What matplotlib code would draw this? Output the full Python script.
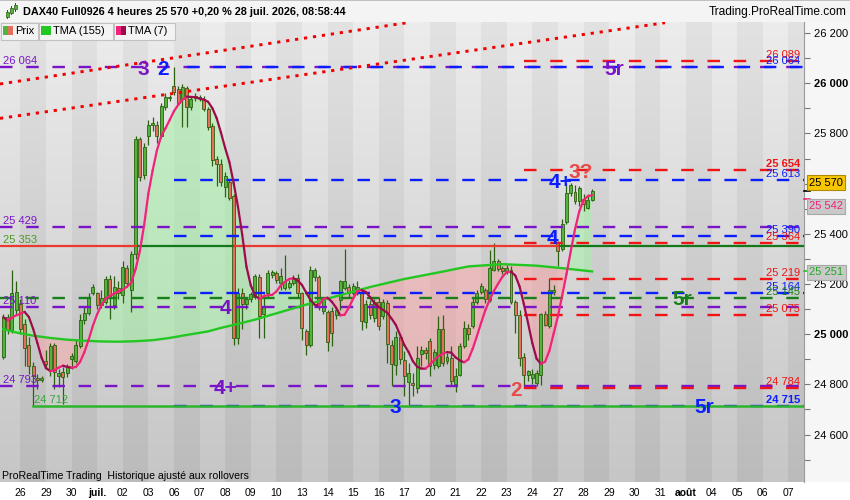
import numpy as np
import pandas as pd
import matplotlib
matplotlib.use("Agg")
import matplotlib.pyplot as plt
from matplotlib.patches import Rectangle, Polygon
from matplotlib.collections import LineCollection
from matplotlib.transforms import IdentityTransform

plt.rcParams['font.family'] = ['Liberation Sans', 'DejaVu Sans']

# ---------------- data ----------------
day_labels = ['25', '26', '29', '30', 'juil.', '02', '03', '06', '07', '08', '09', '10',
              '13', '14', '15', '16', '17', '20', '21', '22', '23', '24', '27', '28',
              '29', '30', '31', 'août', '04', '05', '06', '07']
bars_per_day = 6
first_bar = 2   # index of first visible 4h bar (bar 0 = 25 juin 00:00)

opens = [24909, 25070, 25018, 25097, 25120, 25040, 24958, 24875, 24825, 24818,
         24894, 24859, 24958, 24835, 24850, 24845, 24900, 24892, 24952, 25055,
         25085, 25164, 25164, 25115, 25130, 25220, 25117, 25185, 25157, 25264,
         25176, 25319, 25778, 25635, 25790, 25835, 25834, 25790, 25907, 25940,
         25989, 25976, 25936, 25980, 25905, 25950, 25940, 25936, 25896, 25830,
         25700, 25679, 25585, 25608, 25551, 24985, 25164, 25120, 25140, 25150,
         25227, 25080, 25164, 25235, 25243, 25204, 25184, 25188, 25204, 25224,
         25166, 25014, 24955, 25227, 25227, 25091, 25088, 25091, 25077, 25137,
         25184, 25188, 25166, 25170, 25170, 25047, 25121, 25064, 25130, 25071,
         25124, 24955, 24879, 24989, 24896, 24808, 24806, 24786, 24922, 24935,
         24971, 24878, 24872, 25021, 24895, 24905, 24803, 24839, 24952, 25025,
         25031, 25130, 25170, 25175, 25137, 25257, 25290, 25263, 25250, 25257,
         25130, 25077, 24909, 24839, 24825, 24806, 24839, 25082, 25031, 25170,
         25363, 25340, 25449, 25562, 25565, 25529, 25540, 25504, 25535]
highs = [25080, 25080, 25254, 25210, 25140, 25060, 24990, 24890, 24840, 24835,
         24935, 24965, 24965, 24860, 24870, 24880, 24925, 24975, 25080, 25110,
         25165, 25200, 25170, 25175, 25230, 25235, 25230, 25210, 25290, 25275,
         25330, 25790, 25785, 25760, 25854, 25866, 25850, 25920, 25960, 25955,
         26064, 25990, 25995, 25990, 25945, 25960, 25955, 25950, 25905, 25840,
         25710, 25700, 25645, 25620, 25560, 25185, 25185, 25150, 25170, 25240,
         25240, 25160, 25255, 25255, 25250, 25263, 25316, 25215, 25235, 25240,
         25170, 25020, 25270, 25265, 25237, 25150, 25097, 25110, 25110, 25217,
         25339, 25200, 25205, 25210, 25184, 25137, 25135, 25140, 25150, 25140,
         25137, 24978, 25011, 25000, 24932, 24885, 24845, 24952, 24952, 24950,
         24985, 24940, 25071, 25077, 24925, 24952, 24865, 24965, 25051, 25040,
         25144, 25175, 25205, 25185, 25337, 25363, 25300, 25270, 25275, 25270,
         25137, 25097, 24925, 24859, 24860, 24859, 25084, 25091, 25224, 25195,
         25370, 25460, 25602, 25604, 25595, 25590, 25560, 25560, 25580]
lows = [24900, 25000, 25005, 25080, 25000, 24872, 24840, 24712, 24780, 24810,
        24860, 24832, 24780, 24790, 24720, 24830, 24860, 24885, 24945, 25040,
        25075, 25155, 25100, 25105, 25120, 25060, 25100, 25140, 25124, 25190,
        25090, 25300, 25610, 25620, 25754, 25810, 25760, 25780, 25895, 25930,
        25955, 25915, 25827, 25827, 25895, 25930, 25930, 25890, 25815, 25670,
        25590, 25590, 25546, 25535, 24955, 24960, 25020, 25100, 25130, 25140,
        24985, 24985, 25150, 25225, 25205, 25177, 25177, 25180, 25195, 25150,
        24978, 24918, 24950, 25210, 25097, 25080, 24932, 24952, 25060, 25097,
        25177, 25150, 25155, 25157, 25018, 25024, 25060, 25050, 25018, 25060,
        24885, 24792, 24839, 24880, 24753, 24719, 24752, 24766, 24872, 24900,
        24832, 24860, 24865, 24872, 24880, 24799, 24768, 24832, 24945, 24975,
        25024, 25120, 25160, 25125, 25130, 25250, 25250, 25240, 25240, 25120,
        25005, 24872, 24784, 24812, 24800, 24792, 24799, 25031, 25024, 25155,
        25270, 25330, 25440, 25550, 25520, 25510, 25490, 25500, 25530]
closes = [25068, 25018, 25164, 25170, 25020, 24945, 24872, 24832, 24818, 24826,
          24881, 24952, 24850, 24845, 24830, 24872, 24912, 24958, 25058, 25085,
          25144, 25190, 25115, 25145, 25220, 25150, 25190, 25165, 25268, 25204,
          25319, 25778, 25626, 25745, 25834, 25840, 25790, 25910, 25944, 25945,
          25967, 25923, 25984, 25905, 25936, 25940, 25945, 25897, 25827, 25694,
          25680, 25605, 25631, 25542, 24985, 25164, 25120, 25140, 25160, 25233,
          25071, 25110, 25244, 25246, 25217, 25233, 25206, 25204, 25224, 25165,
          25024, 24955, 25254, 25254, 25124, 25137, 24967, 25005, 25097, 25210,
          25210, 25164, 25193, 25190, 25051, 25121, 25077, 25130, 25034, 25130,
          24962, 24882, 24989, 24900, 24832, 24845, 24799, 24905, 24935, 24925,
          24872, 24928, 25021, 24885, 24911, 24812, 24835, 24952, 25025, 25000,
          25130, 25164, 25193, 25140, 25263, 25290, 25260, 25250, 25263, 25127,
          25077, 24905, 24839, 24852, 24842, 24845, 25082, 25038, 25177, 25177,
          25330, 25440, 25562, 25595, 25530, 25582, 25520, 25535, 25570]

# TMA(155) (bar index, value)
tma155_idx = [2, 5, 9, 13, 17, 21, 25, 29, 33, 37, 41, 45, 50, 53, 57, 61, 65,
              72, 80, 88, 96, 104, 111, 119, 127, 133, 140]
tma155_val = [25020, 25007, 24994, 24985, 24978, 24974, 24971, 24970, 24972, 24976,
              24985, 24997, 25011, 25025, 25041, 25058, 25078, 25113, 25151, 25188,
              25220, 25246, 25270, 25279, 25273, 25263, 25250]

# horizontal levels
level_values = [26089, 26064, 26064, 25654, 25613, 25429, 25390, 25364, 25219,
                25164, 25145, 25110, 25075, 24793, 24784, 24715]
level_kinds = ['red', 'purple', 'blue', 'red', 'blue', 'purple', 'blue', 'red', 'red',
               'blue', 'green', 'purple', 'red', 'purple', 'red', 'blue']
level_start_bar = [124, None, 42, 124, 42, None, 42, 124, 124,
                   42, None, None, 124, None, 124, 42]
bold_levels = [25654, 24715]

support_level = 25353
support_breaks = [33.4, 56.0, 132.3]        # bars where the colour flips
support_colors = ['red', 'dkgreen', 'red', 'dkgreen']
low_level = 24712
low_level_start = 9

# red dotted trend lines (bar index, price) endpoints
trend_a = [(1.24, 25997), (96.6, 26241)]
trend_b = [(1.24, 25860), (157.1, 26241)]

# wave annotations: text, colour kind, bar, price
wave_texts = ['3', '2', '5r', '4+', '3?', '4', '4', '4+', '3', '2', '5r', '5r']
wave_kinds = ['purple', 'blue', 'purple', 'blue', 'lred', 'blue', 'purple', 'purple',
              'blue', 'lred', 'green', 'blue']
wave_bar = [34.8, 39.4, 145.1, 132.7, 137.4, 130.8, 54.0, 54.0, 94.0, 122.2, 161.1, 166.2]
wave_price = [26064, 26064, 26064, 25613, 25654, 25390, 25110, 24793, 24715, 24784, 25145, 24715]

last_price = 25570
tma7_last = 25542
tma155_last = 25251
price_ticks = list(range(24500, 26300, 100))
hidden_tick = 25600   # covered by the last-price box in the reference

COL = {'red': '#f01414', 'purple': '#7a14c8', 'blue': '#0a1eff', 'green': '#17801a',
       'dkgreen': '#14781a', 'lred': '#e84a4a'}

# ---------------- figure ----------------
W, H = 850, 500
fig = plt.figure(figsize=(W / 100, H / 100), dpi=100, facecolor='white')
ax = fig.add_axes([0, 18 / H, 804 / W, (482 - 22) / H])
XMIN, XMAX = 1.24, 189.67
YMIN, YMAX = 24411, 26244

# background day bands with vertical gradient
grad = np.linspace(0, 1, 128)[:, None, None]
for d in range(len(day_labels)):
    if d % 2 == 0:
        top, bot = np.array([236, 236, 236]), np.array([198, 198, 198])
    else:
        top, bot = np.array([226, 226, 226]), np.array([187, 187, 187])
    img = (top + (bot - top) * grad) / 255.0
    ax.imshow(img, extent=[d * bars_per_day, (d + 1) * bars_per_day, YMIN, YMAX],
              aspect='auto', origin='upper', zorder=0, interpolation='bilinear')

x = np.arange(first_bar, first_bar + len(closes))
o = np.array(opens); h = np.array(highs); l = np.array(lows); c = np.array(closes)

# TMA(7) = SMA4 of SMA4 of close
cs = pd.Series(c, dtype=float)
tma7 = cs.rolling(4, min_periods=1).mean().rolling(4, min_periods=1).mean().to_numpy()

# fill between TMA7 and TMA155 (green above, red below)
t_idx = np.array(tma155_idx, dtype=float); t_val = np.array(tma155_val, dtype=float)
poly = np.column_stack([np.r_[x, t_idx[::-1]], np.r_[tma7, t_val[::-1]]])
for ylim_edge, col in ((YMAX + 1000, (0.63, 0.96, 0.63)), (YMIN - 1000, (0.98, 0.64, 0.64))):
    clip = np.column_stack([np.r_[t_idx, t_idx[-1], t_idx[0]], np.r_[t_val, ylim_edge, ylim_edge]])
    p = Polygon(poly, closed=True, fc=col, ec='none', alpha=0.5, zorder=1)
    ax.add_patch(p)
    cp = Polygon(clip, closed=True, transform=ax.transData)
    p.set_clip_path(cp)

# candles
edge = '#2b6110'
ax.vlines(x, l, h, color=edge, lw=0.9, zorder=3)
up = c >= o
body_lo = np.minimum(o, c)
body_h = np.maximum(np.abs(c - o), 4)
ax.bar(x[up], body_h[up], bottom=body_lo[up], width=0.7, color='#52b43c',
       edgecolor=edge, linewidth=0.6, zorder=4)
ax.bar(x[~up], body_h[~up], bottom=body_lo[~up], width=0.7, color='#e4705c',
       edgecolor=edge, linewidth=0.6, zorder=4)

# horizontal dashed levels
dash = (5.3, 5.8)
for val, kind, start in zip(level_values, level_kinds, level_start_bar):
    xs = XMIN if start is None else start
    off = 5.5 if (kind == 'blue' and val == 26064) else 0
    ax.plot([xs, XMAX], [val, val], color=COL[kind], lw=1.7,
            linestyle=(off, dash), dash_capstyle='butt', zorder=5)
    weight = 'bold' if val in bold_levels else 'normal'
    txt = f"{val // 1000} {val % 1000:03d}"
    if kind == 'purple':
        ax.annotate(txt, xy=(0, val), xycoords=('axes fraction', 'data'), xytext=(3, 1),
                    textcoords='offset pixels', ha='left', va='bottom', fontsize=8,
                    color=COL[kind], zorder=8)
    else:
        ax.annotate(txt, xy=(1, val), xycoords=('axes fraction', 'data'), xytext=(-4, 1),
                    textcoords='offset pixels', ha='right', va='bottom', fontsize=8,
                    color=COL[kind], fontweight=weight, zorder=8)

# support level with colour segments
bx = [XMIN] + support_breaks + [XMAX]
for k, ck in enumerate(support_colors):
    ax.plot([bx[k], bx[k + 1]], [support_level] * 2, color=COL[ck] if ck != 'red' else '#e83a2e',
            lw=1.6, solid_capstyle='butt', zorder=5)
ax.annotate(f"{support_level // 1000} {support_level % 1000:03d}", xy=(0, support_level),
            xycoords=('axes fraction', 'data'), xytext=(3, 1), textcoords='offset pixels',
            ha='left', va='bottom', fontsize=8, color='#4a9a24', zorder=8)
# lowest low level
ax.plot([low_level_start, XMAX], [low_level] * 2, color='#2cb52c', lw=1.8, zorder=5)
ax.annotate(f"{low_level // 1000} {low_level % 1000:03d}", xy=(low_level_start, low_level),
            xytext=(1, 1), textcoords='offset pixels', ha='left', va='bottom', fontsize=8,
            color='#3aa83a', zorder=8)

# dotted trend lines
for (xa, ya), (xb, yb) in (trend_a, trend_b):
    ax.plot([xa, xb], [ya, yb], color='#f00000', lw=2.1, linestyle=(0, (1.1, 2.0)),
            dash_capstyle='butt', zorder=6)

# TMA155
ax.plot(tma155_idx, tma155_val, color='#22c722', lw=1.7, zorder=6)

# TMA7 coloured by slope
pts = np.column_stack([x, tma7])
segs = np.stack([pts[:-1], pts[1:]], axis=1)
cols = ['#f2227a' if tma7[k + 1] >= tma7[k] else '#9c0c4c' for k in range(len(tma7) - 1)]
ax.add_collection(LineCollection(segs, colors=cols, linewidths=1.6, zorder=7,
                                 capstyle='round', joinstyle='round'))

# wave annotations
for t, kd, bx_, py in zip(wave_texts, wave_kinds, wave_bar, wave_price):
    ax.annotate(t, xy=(bx_, py), xytext=(0, -7.5), textcoords='offset pixels',
                ha='center', va='baseline', fontsize=15, fontweight='bold',
                color=COL[kd], zorder=9)

ax.set_xlim(XMIN, XMAX)
ax.set_ylim(YMIN, YMAX)

# axes styling
for s in ('top', 'left', 'bottom'):
    ax.spines[s].set_visible(False)
ax.spines['right'].set_color('#9a9a9a')
ax.yaxis.tick_right()
ax.set_yticks(price_ticks)
ax.set_yticklabels([f"{v // 1000} {v % 1000:03d}" if (v % 200 == 0 and v != hidden_tick) else ''
                    for v in price_ticks])
for lbl, v in zip(ax.get_yticklabels(), price_ticks):
    if v % 1000 == 0:
        lbl.set_fontweight('bold')
ax.tick_params(axis='y', length=4, color='#777777', labelsize=8, pad=3, labelcolor='black')
ax.set_xticks([d * bars_per_day for d in range(1, len(day_labels))])
ax.set_xticklabels(day_labels[1:])
for lbl in ax.get_xticklabels():
    if lbl.get_text() in ('juil.', 'août'):
        lbl.set_fontweight('bold')
ax.tick_params(axis='x', length=0, labelsize=7.5, pad=4, labelcolor='black')

# right axis strip
fig.add_artist(Rectangle((804.5, 18), 46, 460, transform=IdentityTransform(),
                         fc='#f6f6f6', ec='none', zorder=-1))

# markers and value boxes on the price axis
def axis_mark(price, color):
    ax.plot([1.0, 1.007], [price, price], transform=ax.get_yaxis_transform(),
            color=color, lw=1.2, clip_on=False, zorder=9)

def axis_box(price, dy, fc, tc, ec):
    ax.annotate(f"{price // 1000} {price % 1000:03d}", xy=(1, price),
                xycoords=('axes fraction', 'data'), xytext=(5, dy), textcoords='offset pixels',
                ha='left', va='center', fontsize=8, color=tc, annotation_clip=False,
                bbox=dict(boxstyle='square,pad=0.22', fc=fc, ec=ec, lw=0.8), zorder=12)

axis_mark(last_price, 'black')
axis_mark(tma7_last - 5, '#f2227a')
axis_mark(tma155_last, '#22c722')
axis_box(last_price, 8.5, '#f7c600', 'black', '#b08a00')
axis_box(tma7_last, -8, '#c9c9c9', '#f2227a', '#a8a8a8')
axis_box(tma155_last, -1, '#c9c9c9', '#22a822', '#a8a8a8')

# title bar
def px(xp, yp):
    return xp / W, 1 - yp / H

fig.add_artist(Rectangle((0, 478), W, 22, transform=IdentityTransform(), fc='#f4f4f4',
                         ec='none', zorder=1))
fig.add_artist(Rectangle((0, 499), W, 1, transform=IdentityTransform(), fc='#c0c0c0',
                         ec='none', zorder=2))
for cx, cy0, cy1, by0, by1 in ((7, 10, 19, 12, 17), (11, 6, 15, 8, 13), (15, 3, 12, 5, 9)):
    fig.add_artist(Rectangle((cx, H - cy1), 0.8, cy1 - cy0, transform=IdentityTransform(),
                             fc='#2b6110', ec='none', zorder=3))
    fig.add_artist(Rectangle((cx - 1.2, H - by1), 3.2, by1 - by0, transform=IdentityTransform(),
                             fc='#52b43c', ec='#2b6110', lw=0.5, zorder=4))
fig.text(*px(23, 12), "DAX40 Full0926 4 heures 25 570 +0,20 % 28 juil. 2026, 08:58:44",
         ha='left', va='center', fontsize=7.8, fontweight='bold', color='black', zorder=5)
fig.text(*px(847, 12), "Trading.ProRealTime.com", ha='right', va='center', fontsize=8.6,
         color='black', zorder=5)

# legend boxes
legend_items = [((0, 37), 'Prix', ['#52b43c', '#e4705c']),
                ((38, 112), 'TMA (155)', ['#22c722', '#22c722']),
                ((113, 174), 'TMA (7)', ['#f2227a', '#9c0c4c'])]
for (x0, x1), label, sw in legend_items:
    fig.add_artist(Rectangle((x0 + 0.5, H - 40), x1 - x0, 17, transform=IdentityTransform(),
                             fc='#f3f3f3', ec='#c2c2c2', lw=0.8, zorder=20))
    fig.add_artist(Rectangle((x0 + 3, H - 35), 5, 9, transform=IdentityTransform(),
                             fc=sw[0], ec='none', zorder=21))
    fig.add_artist(Rectangle((x0 + 8, H - 35), 5, 9, transform=IdentityTransform(),
                             fc=sw[1], ec='none', zorder=21))
    fig.text(*px(x0 + 15, 31.5), label, ha='left', va='center', fontsize=8, color='black',
             zorder=22)

fig.text(*px(2, 476), "ProRealTime Trading  Historique ajusté aux rollovers", ha='left',
         va='center', fontsize=7.6, color='black', zorder=5)

fig.savefig('out.png', dpi=100, facecolor='white')
